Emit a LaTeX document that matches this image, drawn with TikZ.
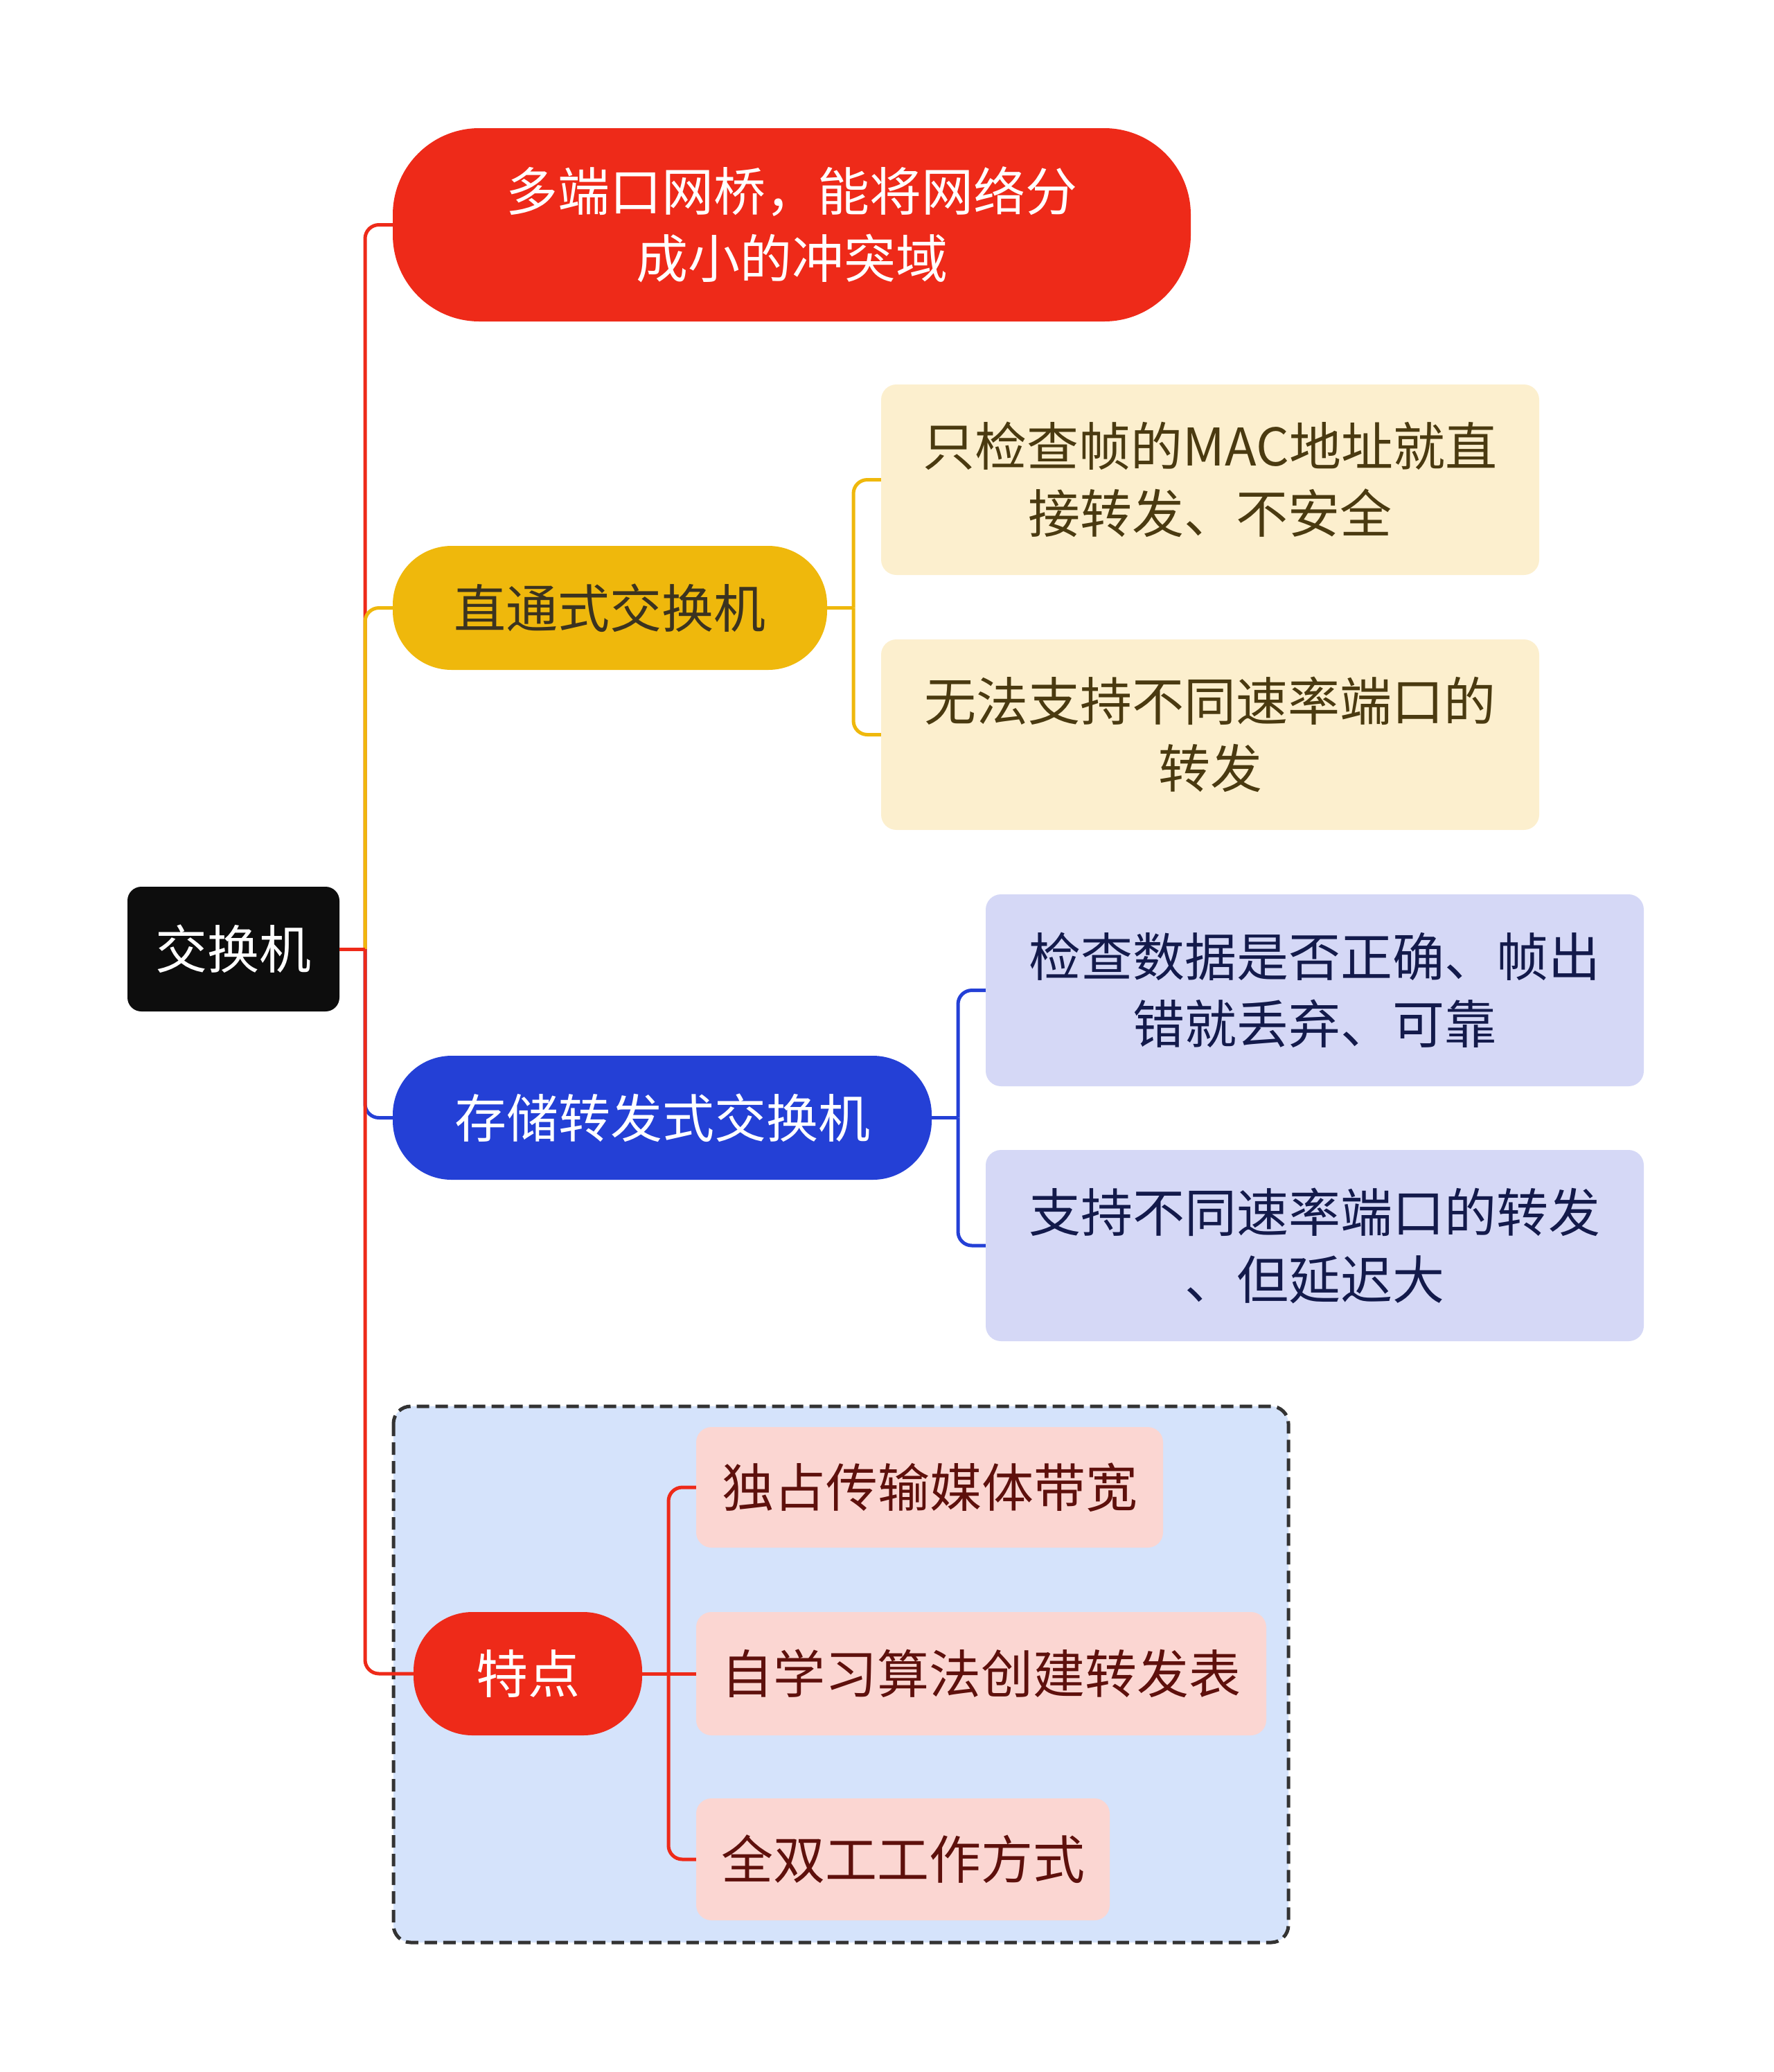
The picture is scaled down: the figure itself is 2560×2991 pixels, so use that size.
\documentclass[tikz,border=0pt]{standalone}
\usepackage{fontspec}
\setmainfont{Noto Sans CJK SC}
\definecolor{cred}{HTML}{EE2A19}
\definecolor{cyel}{HTML}{EFB80C}
\definecolor{cblue}{HTML}{2440D6}
\definecolor{cbeige}{HTML}{FCEFCE}
\definecolor{clav}{HTML}{D5D8F6}
\definecolor{cpink}{HTML}{FBD6D2}
\definecolor{cgroup}{HTML}{D5E3FB}
\definecolor{tbeige}{HTML}{4A3A10}
\definecolor{tnavy}{HTML}{131A4B}
\definecolor{tmaroon}{HTML}{5E100C}
\definecolor{tyel}{HTML}{3B3320}
\definecolor{cdash}{HTML}{333333}
\tikzset{
  base/.style={inner sep=0pt, align=center, font=\fontsize{75}{97}\selectfont},
  rootbox/.style={base, fill=black!95, text=white, rounded corners=20pt},
  pillbox/.style={base, rounded corners=85pt},
  leafbox/.style={base, rounded corners=22pt},
  conn/.style={line width=5pt},
  elbow/.style={conn, rounded corners=20pt},
}
\begin{document}
\begin{tikzpicture}[x=1pt,y=-1pt]
\useasboundingbox (0,0) rectangle (2560,2991);
% group frame
\draw[fill=cgroup, draw=cdash, line width=5pt, dash pattern=on 18pt off 9pt, rounded corners=25pt] (568,2030) rectangle (1860,2804);
% nodes
\node[rootbox, minimum width=306pt, minimum height=180pt] (root) at (337,1370) {交换机};
\node[base, fill=cred, text=white, rounded corners=125pt, minimum width=1152pt, minimum height=279pt] (n1) at (1143,324.5) {多端口网桥，能将网络分\\成小的冲突域};
\node[pillbox, fill=cyel, text=tyel, minimum width=627pt, minimum height=179pt] (n2) at (880.5,877.5) {直通式交换机};
\node[pillbox, fill=cblue, text=white, minimum width=778pt, minimum height=179pt] (n3) at (956,1613.5) {存储转发式交换机};
\node[pillbox, fill=cred, text=white, minimum width=330pt, minimum height=178pt] (n4) at (762,2416) {特点};
\node[leafbox, fill=cbeige, text=tbeige, minimum width=950pt, minimum height=275pt] (c21) at (1747,692.5) {只检查帧的MAC地址就直\\接转发、不安全};
\node[leafbox, fill=cbeige, text=tbeige, minimum width=950pt, minimum height=275pt] (c22) at (1747,1060.5) {无法支持不同速率端口的\\转发};
\node[leafbox, fill=clav, text=tnavy, minimum width=950pt, minimum height=277pt] (c31) at (1898,1429.5) {检查数据是否正确、帧出\\错就丢弃、可靠};
\node[leafbox, fill=clav, text=tnavy, minimum width=950pt, minimum height=276pt] (c32) at (1898,1798) {支持不同速率端口的转发\\、但延迟大};
\node[leafbox, fill=cpink, text=tmaroon, minimum width=674pt, minimum height=174pt] (c41) at (1342,2147) {独占传输媒体带宽};
\node[leafbox, fill=cpink, text=tmaroon, minimum width=823pt, minimum height=178pt] (c42) at (1416.5,2416) {自学习算法创建转发表};
\node[leafbox, fill=cpink, text=tmaroon, minimum width=597pt, minimum height=176pt] (c43) at (1303.5,2684) {全双工工作方式};
% junctions
\coordinate (j0) at (527,1370);
\coordinate (j2) at (1232,877.5);
\coordinate (j3) at (1383,1613.5);
\coordinate (j4) at (965,2416);
% main branches
\draw[elbow, cred] (j0) |- (n1.west);
\draw[elbow, cyel] (j0) |- (n2.west);
\draw[elbow, cblue] (j0) |- (n3.west);
\draw[elbow, cred] (j0) |- (n4.west);
\draw[conn, cred] (root.east) -- (j0);
% sub branches
\draw[conn, cyel] (n2.east) -- (j2);
\draw[elbow, cyel] (j2) |- (c21.west);
\draw[elbow, cyel] (j2) |- (c22.west);
\draw[conn, cblue] (n3.east) -- (j3);
\draw[elbow, cblue] (j3) |- (c31.west);
\draw[elbow, cblue] (j3) |- (c32.west);
\draw[conn, cred] (n4.east) -- (j4);
\draw[elbow, cred] (j4) |- (c41.west);
\draw[conn, cred] (j4) -- (c42.west);
\draw[elbow, cred] (j4) |- (c43.west);
\end{tikzpicture}
\end{document}
